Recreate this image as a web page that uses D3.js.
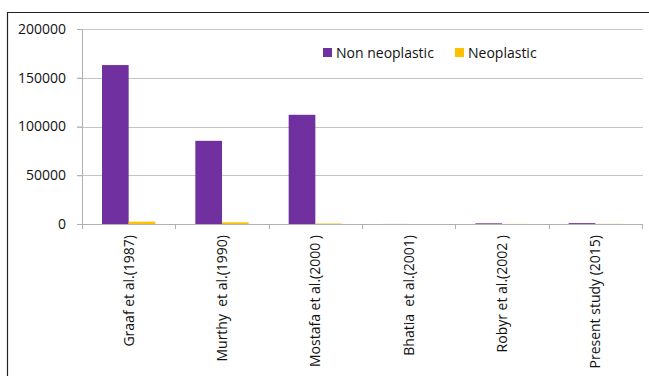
<!DOCTYPE html>
<html>
<head>
<meta charset="utf-8">
<script src="https://cdn.jsdelivr.net/npm/d3@7"></script>
<style>
  body { margin: 0; background: #fff; }
  svg { display: block; font-family: "Open Sans", "Noto Sans", sans-serif; }
</style>
</head>
<body>
<div id="chart"></div>
<script>
// Data
const studies = ["Graaf et al.(1987)", "Murthy  et al.(1990)", "Mostafa et al.(2000 )",
  "Bhatia  et al.(2001)", "Robyr et al.(2002 )", "Present study (2015)"];
const nonNeoplastic = [163000, 85300, 112000, 40, 700, 900];
const neoplastic = [2400, 1700, 500, 10, 100, 150];
const seriesNames = ["Non neoplastic", "Neoplastic"];
const seriesColors = ["#7030A0", "#FFC000"];
const yTicks = [0, 50000, 100000, 150000, 200000];

const width = 649, height = 376;
const margin = {top: 29, right: 6, bottom: 152, left: 82};
const plotW = 642 - margin.left, plotH = 224 - margin.top;

const svg = d3.select("#chart").append("svg")
    .attr("width", width)
    .attr("height", height);

// Outer frame (top and left edges visible)
svg.append("path")
    .attr("d", "M7.5,376 V12.5 H649")
    .attr("fill", "none")
    .attr("stroke", "#222")
    .attr("stroke-width", 1.2);

const g = svg.append("g")
    .attr("transform", `translate(${margin.left}, ${margin.top})`);

// Scales
const x = d3.scaleBand()
    .domain(studies)
    .range([0, plotW])
    .paddingInner(0)
    .paddingOuter(0);
const xInner = d3.scaleBand()
    .domain(seriesNames)
    .range([0, x.bandwidth()])
    .paddingInner(0)
    .paddingOuter(0.75);
const y = d3.scaleLinear()
    .domain([0, 200000])
    .range([plotH, 0]);

// Gridlines
g.append("g")
    .selectAll("line")
    .data(yTicks)
    .join("line")
    .attr("x1", -5)
    .attr("x2", plotW + 1)
    .attr("y1", d => Math.round(y(d)) + 0.5)
    .attr("y2", d => Math.round(y(d)) + 0.5)
    .attr("stroke", "#c4c4c4")
    .attr("stroke-width", 1);

// Y axis
const yAxis = g.append("g")
    .call(d3.axisLeft(y).tickValues(yTicks).tickSize(5).tickFormat(d3.format("d")));
yAxis.select(".domain").attr("stroke", "#b0b0b0");
yAxis.selectAll(".tick line").attr("stroke", "#b0b0b0");
yAxis.selectAll("text")
    .attr("x", -16)
    .attr("fill", "#111")
    .style("font-size", "14px")
    .style("font-family", "'Open Sans', sans-serif");

// Bars
const rows = studies.map((s, i) => ({study: s, values: [nonNeoplastic[i], neoplastic[i]]}));
g.append("g")
    .selectAll("g")
    .data(rows)
    .join("g")
    .attr("transform", d => `translate(${x(d.study)}, 0)`)
    .selectAll("rect")
    .data(d => d.values.map((v, j) => ({name: seriesNames[j], value: v, color: seriesColors[j]})))
    .join("rect")
    .attr("x", d => xInner(d.name))
    .attr("width", xInner.bandwidth())
    .attr("y", d => y(d.value))
    .attr("height", d => plotH - y(d.value))
    .attr("fill", d => d.color);

// X axis
const xAxis = g.append("g")
    .attr("transform", `translate(0, ${plotH})`)
    .call(d3.axisBottom(x).tickSize(0));
xAxis.select(".domain").attr("stroke", "#b0b0b0");
xAxis.selectAll(".tick line").remove();
// category boundary ticks
xAxis.append("g")
    .selectAll("line")
    .data(d3.range(studies.length + 1))
    .join("line")
    .attr("x1", i => Math.round(i * x.step()) + 0.5)
    .attr("x2", i => Math.round(i * x.step()) + 0.5)
    .attr("y1", 0)
    .attr("y2", 5)
    .attr("stroke", "#b0b0b0");
xAxis.selectAll(".tick text")
    .attr("transform", "rotate(-90)")
    .attr("x", -11)
    .attr("y", 0)
    .attr("dy", "0.35em")
    .attr("text-anchor", "end")
    .attr("fill", "#111")
    .style("font-size", "14px")
    .style("font-family", "'Open Sans', sans-serif")
    .style("white-space", "pre")
    .attr("xml:space", "preserve");

// Legend
const legend = svg.append("g")
    .attr("transform", "translate(323, 53)");
const legendX = [0, 132];
seriesNames.forEach((name, i) => {
    const item = legend.append("g").attr("transform", `translate(${legendX[i]}, 0)`);
    item.append("rect")
        .attr("x", 0)
        .attr("y", -5)
        .attr("width", 9)
        .attr("height", 9)
        .attr("fill", seriesColors[i]);
    item.append("text")
        .attr("x", 13)
        .attr("y", 0)
        .attr("dy", "0.35em")
        .attr("fill", "#111")
        .style("font-size", "14px")
        .text(name);
});
</script>
</body>
</html>
